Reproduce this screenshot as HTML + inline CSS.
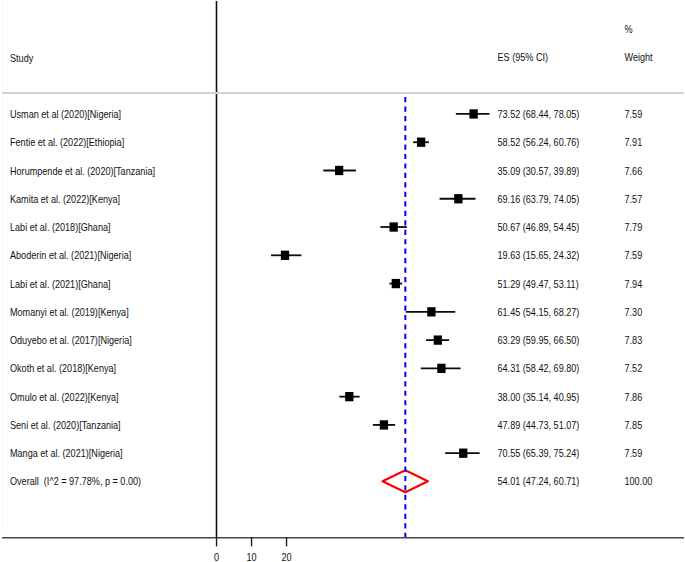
<!DOCTYPE html><html><head><meta charset="utf-8"><style>html,body{margin:0;padding:0;background:#fff;width:685px;height:562px;overflow:hidden}svg{display:block}text{font-family:"Liberation Sans",sans-serif;font-size:10px;fill:#111}</style></head><body>
<svg width="685" height="562" viewBox="0 0 685 562">
<rect width="685" height="562" fill="#fff"/>
<line x1="2.5" y1="0" x2="2.5" y2="535" stroke="#f9f9f9" stroke-width="1.5"/>
<line x1="216.5" y1="1" x2="216.5" y2="537" stroke="#111" stroke-width="1.6"/>
<line x1="2" y1="93" x2="684" y2="93" stroke="#d2d2d2" stroke-width="2"/>
<text transform="translate(10.00,61.60) scale(0.91,1)" text-anchor="start">Study</text>
<text transform="translate(497.50,61.40) scale(0.91,1)" text-anchor="start">ES (95% CI)</text>
<text transform="translate(624.50,33.20) scale(0.91,1)" text-anchor="start">%</text>
<text transform="translate(624.50,61.10) scale(0.91,1)" text-anchor="start">Weight</text>
<text transform="translate(10.00,118.05) scale(0.91,1)" text-anchor="start">Usman et al (2020)[Nigeria]</text>
<text transform="translate(497.50,118.05) scale(0.91,1)" text-anchor="start">73.52 (68.44, 78.05)</text>
<text transform="translate(624.50,118.05) scale(0.91,1)" text-anchor="start">7.59</text>
<line x1="455.84" y1="113.95" x2="489.48" y2="113.95" stroke="#0c0c0c" stroke-width="1.8"/>
<rect x="469.47" y="109.30" width="8.3" height="9.3" fill="#000"/>
<text transform="translate(10.00,146.32) scale(0.91,1)" text-anchor="start">Fentie et al. (2022)[Ethiopia]</text>
<text transform="translate(497.50,146.32) scale(0.91,1)" text-anchor="start">58.52 (56.24, 60.76)</text>
<text transform="translate(624.50,146.32) scale(0.91,1)" text-anchor="start">7.91</text>
<line x1="413.14" y1="142.22" x2="428.96" y2="142.22" stroke="#0c0c0c" stroke-width="1.8"/>
<rect x="416.97" y="137.57" width="8.3" height="9.3" fill="#000"/>
<text transform="translate(10.00,174.59) scale(0.91,1)" text-anchor="start">Horumpende et al. (2020)[Tanzania]</text>
<text transform="translate(497.50,174.59) scale(0.91,1)" text-anchor="start">35.09 (30.57, 39.89)</text>
<text transform="translate(624.50,174.59) scale(0.91,1)" text-anchor="start">7.66</text>
<line x1="323.30" y1="170.49" x2="355.92" y2="170.49" stroke="#0c0c0c" stroke-width="1.8"/>
<rect x="334.97" y="165.84" width="8.3" height="9.3" fill="#000"/>
<text transform="translate(10.00,202.86) scale(0.91,1)" text-anchor="start">Kamita et al. (2022)[Kenya]</text>
<text transform="translate(497.50,202.86) scale(0.91,1)" text-anchor="start">69.16 (63.79, 74.05)</text>
<text transform="translate(624.50,202.86) scale(0.91,1)" text-anchor="start">7.57</text>
<line x1="439.56" y1="198.76" x2="475.48" y2="198.76" stroke="#0c0c0c" stroke-width="1.8"/>
<rect x="454.21" y="194.11" width="8.3" height="9.3" fill="#000"/>
<text transform="translate(10.00,231.13) scale(0.91,1)" text-anchor="start">Labi et al. (2018)[Ghana]</text>
<text transform="translate(497.50,231.13) scale(0.91,1)" text-anchor="start">50.67 (46.89, 54.45)</text>
<text transform="translate(624.50,231.13) scale(0.91,1)" text-anchor="start">7.79</text>
<line x1="380.42" y1="227.03" x2="406.88" y2="227.03" stroke="#0c0c0c" stroke-width="1.8"/>
<rect x="389.50" y="222.38" width="8.3" height="9.3" fill="#000"/>
<text transform="translate(10.00,259.40) scale(0.91,1)" text-anchor="start">Aboderin et al. (2021)[Nigeria]</text>
<text transform="translate(497.50,259.40) scale(0.91,1)" text-anchor="start">19.63 (15.65, 24.32)</text>
<text transform="translate(624.50,259.40) scale(0.91,1)" text-anchor="start">7.59</text>
<line x1="271.07" y1="255.30" x2="301.42" y2="255.30" stroke="#0c0c0c" stroke-width="1.8"/>
<rect x="280.86" y="250.65" width="8.3" height="9.3" fill="#000"/>
<text transform="translate(10.00,287.67) scale(0.91,1)" text-anchor="start">Labi et al. (2021)[Ghana]</text>
<text transform="translate(497.50,287.67) scale(0.91,1)" text-anchor="start">51.29 (49.47, 53.11)</text>
<text transform="translate(624.50,287.67) scale(0.91,1)" text-anchor="start">7.94</text>
<line x1="389.44" y1="283.57" x2="402.19" y2="283.57" stroke="#0c0c0c" stroke-width="1.8"/>
<rect x="391.67" y="278.92" width="8.3" height="9.3" fill="#000"/>
<text transform="translate(10.00,315.94) scale(0.91,1)" text-anchor="start">Momanyi et al. (2019)[Kenya]</text>
<text transform="translate(497.50,315.94) scale(0.91,1)" text-anchor="start">61.45 (54.15, 68.27)</text>
<text transform="translate(624.50,315.94) scale(0.91,1)" text-anchor="start">7.30</text>
<line x1="405.83" y1="311.84" x2="455.25" y2="311.84" stroke="#0c0c0c" stroke-width="1.8"/>
<rect x="427.23" y="307.19" width="8.3" height="9.3" fill="#000"/>
<text transform="translate(10.00,344.21) scale(0.91,1)" text-anchor="start">Oduyebo et al. (2017)[Nigeria]</text>
<text transform="translate(497.50,344.21) scale(0.91,1)" text-anchor="start">63.29 (59.95, 66.50)</text>
<text transform="translate(624.50,344.21) scale(0.91,1)" text-anchor="start">7.83</text>
<line x1="426.12" y1="340.11" x2="449.05" y2="340.11" stroke="#0c0c0c" stroke-width="1.8"/>
<rect x="433.67" y="335.46" width="8.3" height="9.3" fill="#000"/>
<text transform="translate(10.00,372.48) scale(0.91,1)" text-anchor="start">Okoth et al. (2018)[Kenya]</text>
<text transform="translate(497.50,372.48) scale(0.91,1)" text-anchor="start">64.31 (58.42, 69.80)</text>
<text transform="translate(624.50,372.48) scale(0.91,1)" text-anchor="start">7.52</text>
<line x1="420.77" y1="368.38" x2="460.60" y2="368.38" stroke="#0c0c0c" stroke-width="1.8"/>
<rect x="437.24" y="363.73" width="8.3" height="9.3" fill="#000"/>
<text transform="translate(10.00,400.75) scale(0.91,1)" text-anchor="start">Omulo et al. (2022)[Kenya]</text>
<text transform="translate(497.50,400.75) scale(0.91,1)" text-anchor="start">38.00 (35.14, 40.95)</text>
<text transform="translate(624.50,400.75) scale(0.91,1)" text-anchor="start">7.86</text>
<line x1="339.29" y1="396.65" x2="359.62" y2="396.65" stroke="#0c0c0c" stroke-width="1.8"/>
<rect x="345.15" y="392.00" width="8.3" height="9.3" fill="#000"/>
<text transform="translate(10.00,429.02) scale(0.91,1)" text-anchor="start">Seni et al. (2020)[Tanzania]</text>
<text transform="translate(497.50,429.02) scale(0.91,1)" text-anchor="start">47.89 (44.73, 51.07)</text>
<text transform="translate(624.50,429.02) scale(0.91,1)" text-anchor="start">7.85</text>
<line x1="372.86" y1="424.92" x2="395.05" y2="424.92" stroke="#0c0c0c" stroke-width="1.8"/>
<rect x="379.77" y="420.27" width="8.3" height="9.3" fill="#000"/>
<text transform="translate(10.00,457.29) scale(0.91,1)" text-anchor="start">Manga et al. (2021)[Nigeria]</text>
<text transform="translate(497.50,457.29) scale(0.91,1)" text-anchor="start">70.55 (65.39, 75.24)</text>
<text transform="translate(624.50,457.29) scale(0.91,1)" text-anchor="start">7.59</text>
<line x1="445.17" y1="453.19" x2="479.64" y2="453.19" stroke="#0c0c0c" stroke-width="1.8"/>
<rect x="459.08" y="448.54" width="8.3" height="9.3" fill="#000"/>
<text transform="translate(10.00,485.20) scale(0.91,1)" text-anchor="start">Overall&#160; (I^2 = 97.78%, p = 0.00)</text>
<text transform="translate(497.50,485.20) scale(0.91,1)" text-anchor="start">54.01 (47.24, 60.71)</text>
<text transform="translate(624.50,485.20) scale(0.91,1)" text-anchor="start">100.00</text>
<polygon points="382.5,481.3 405.3,470.3 427.9,481.3 405.3,492.3" fill="none" stroke="#ff0000" stroke-width="2.1" stroke-linejoin="round"/>
<line x1="405.34" y1="97.1" x2="405.34" y2="537.5" stroke="#0000ff" stroke-width="2" stroke-dasharray="5.2 4.27"/>
<line x1="2" y1="537.8" x2="684" y2="537.8" stroke="#4a4644" stroke-width="1.5"/>
<line x1="216.55" y1="537" x2="216.55" y2="546.4" stroke="#222" stroke-width="1.4"/>
<text transform="translate(216.55,560.50) scale(0.91,1)" text-anchor="middle">0</text>
<line x1="251.55" y1="537" x2="251.55" y2="546.4" stroke="#222" stroke-width="1.4"/>
<text transform="translate(251.55,560.50) scale(0.91,1)" text-anchor="middle">10</text>
<line x1="286.55" y1="537" x2="286.55" y2="546.4" stroke="#222" stroke-width="1.4"/>
<text transform="translate(286.55,560.50) scale(0.91,1)" text-anchor="middle">20</text>
</svg></body></html>
